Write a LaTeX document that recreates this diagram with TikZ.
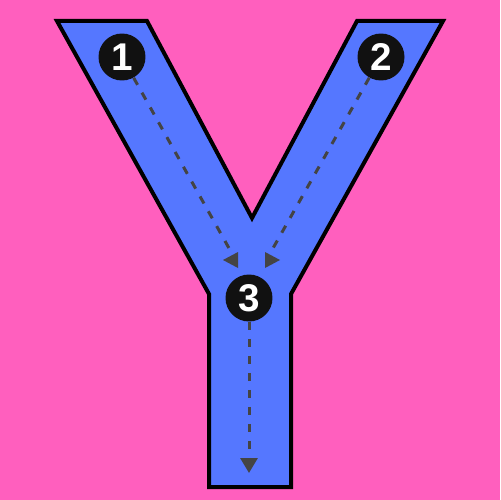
\documentclass[tikz,border=0pt]{standalone}
\usepackage{fontspec}
\setsansfont{Liberation Sans}
\usetikzlibrary{arrows.meta}
\definecolor{bgpink}{RGB}{255,95,190}
\definecolor{yblue}{RGB}{85,119,255}
\definecolor{dotblack}{RGB}{17,17,17}
\definecolor{dashgray}{RGB}{68,68,68}
\tikzset{
  letter/.style = {draw=black, line width=0.08cm, fill=yblue, line join=miter},
  num/.style    = {circle, fill=dotblack, minimum size=0.94cm, inner sep=0pt,
                   text=white, font=\sffamily\bfseries\fontsize{22}{22}\selectfont},
  flow/.style   = {dashgray, line width=0.06cm, dash pattern=on 0.16cm off 0.18cm},
  head/.style   = {fill=dashgray},
}
\begin{document}
\begin{tikzpicture}[x=0.02cm,y=-0.02cm]
 \fill[bgpink] (0,0) rectangle (500,500);
 \useasboundingbox (0,0) rectangle (500,500);
 % letter Y
 \draw[letter] (57,21) -- (147,21) -- (252,218) -- (357,21) -- (443,21)
   -- (291,294) -- (291,487) -- (209,487) -- (209,294) -- cycle;
 % stations
 \node[num] (n1) at (122,57) {1};
 \node[num] (n2) at (381,57) {2};
 \node[num] (n3) at (249,298) {3};
 \coordinate (e1) at (230,250);
 \coordinate (e2) at (272,250);
 \coordinate (e3) at (249,473);
 % strokes
 \draw[flow] (n1) -- (e1);
 \draw[flow] (n2) -- (e2);
 \draw[flow,-{Triangle[length=0.3cm,width=0.34cm]}] (n3) -- (e3);
 \fill[head] (223,260) -- ++(15,-8) -- ++(0,16) -- cycle;
 \fill[head] (280,260) -- ++(-15,-8) -- ++(0,16) -- cycle;
\end{tikzpicture}
\end{document}
